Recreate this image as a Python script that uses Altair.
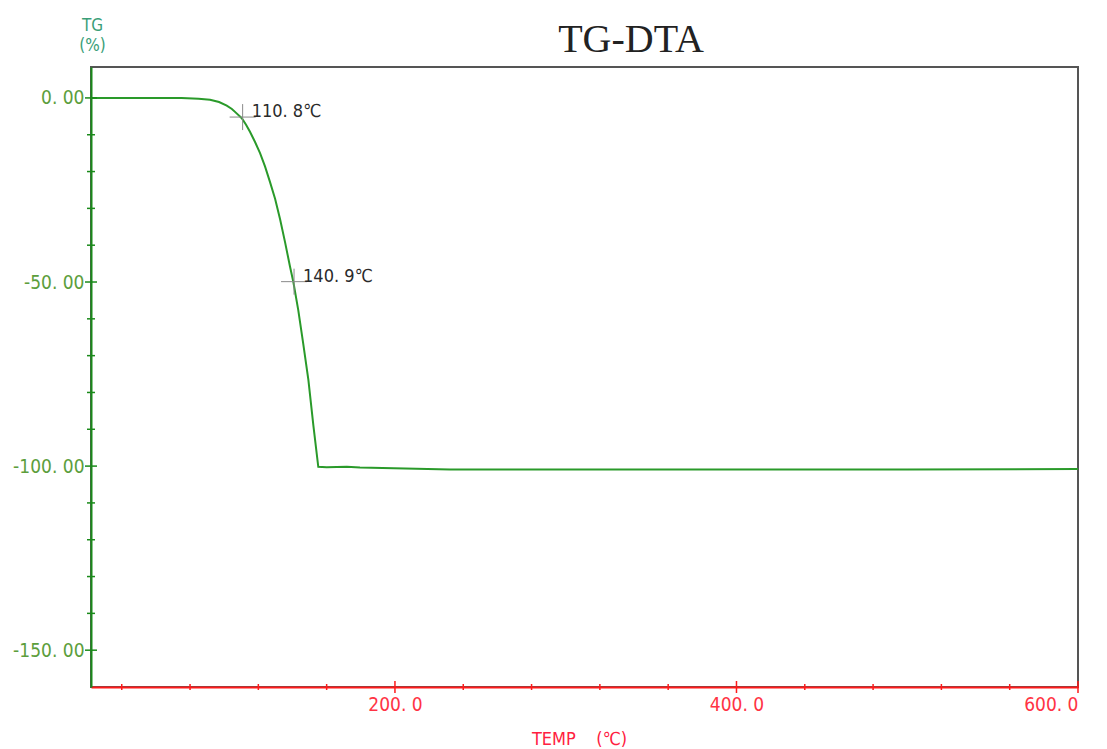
import altair as alt
import pandas as pd

# --- data ---
temp = [22.0, 40.0, 56.6, 75.0, 85.0, 91.7, 97.0, 101.5, 104.5, 107.3, 110.3,
        112.8, 115.1, 118.0, 121.0, 123.9, 126.8, 129.8, 132.7, 135.6, 138.5,
        140.5, 143.4, 146.3, 149.3, 152.2, 155.1, 160.0, 171.8, 179.5, 232.3,
        300.0, 400.0, 500.0, 600.0]
tg = [0.0, 0.0, 0.0, -0.05, -0.2, -0.5, -1.1, -2.1, -3.0, -4.2, -5.5,
      -7.3, -9.2, -11.9, -15.0, -18.6, -22.8, -27.4, -32.9, -39.1, -45.7,
      -50.0, -57.7, -66.8, -76.6, -88.9, -100.2, -100.3, -100.2, -100.4, -100.9,
      -100.9, -100.9, -100.9, -100.8]

ann_temp = [110.8, 140.9]
ann_tg = [-5.2, -49.9]
ann_text = ["110. 8\u2103", "140. 9\u2103"]

title_text = ["TG-DTA"]

y_major = [0, -50, -100, -150]
y_minor = [-10, -20, -30, -40, -60, -70, -80, -90, -110, -120, -130, -140]
x_major = [200, 400, 600]
x_minor = [40, 80, 120, 160, 240, 280, 320, 360, 440, 480, 520, 560]

X_DOMAIN = [22.0, 600.0]
Y_DOMAIN = [-160.0, 8.4]

FONT = "DejaVu Sans Condensed, Roboto, Liberation Sans, sans-serif"

curve_df = pd.DataFrame({"temp": temp, "tg": tg})
ann_df = pd.DataFrame({"temp": ann_temp, "tg": ann_tg, "label": ann_text})
ymaj_df = pd.DataFrame({"tg": y_major})
ymin_df = pd.DataFrame({"tg": y_minor})
xmaj_df = pd.DataFrame({"temp": x_major})
xmin_df = pd.DataFrame({"temp": x_minor})
title_df = pd.DataFrame({"t": title_text})

xscale = alt.Scale(domain=X_DOMAIN, nice=False, zero=False)
yscale = alt.Scale(domain=Y_DOMAIN, nice=False, zero=False)

xaxis = alt.Axis(
    values=x_major, ticks=False, tickSize=0, grid=False,
    domainColor="#ff1a1a", domainWidth=2,
    labelExpr="replace(format(datum.value, '.1f'), '.', '. ')",
    labelColor="#ff3344", labelFont=FONT, labelFontSize=19, labelPadding=8,
    title="TEMP\u00a0\u00a0\u00a0\u00a0(\u2103)", titleColor="#ff2040", titleFont=FONT,
    titleFontSize=18, titleFontWeight="normal", titleY=43, titleBaseline="top",
    titleX=488, titleAnchor="middle")
yaxis = alt.Axis(
    values=y_major, ticks=False, tickSize=0, grid=False,
    domainColor="#1a8a1a", domainWidth=2,
    labelExpr="replace(replace(format(datum.value, '.2f'), '\u2212', '-'), '.', '. ')",
    labelColor="#5c9e3c", labelFont=FONT, labelFontSize=19, labelPadding=7,
    title=["TG", "(%)"], titleColor="#3a9e78", titleFont=FONT,
    titleFontSize=17, titleFontWeight="normal", titleAngle=0,
    titleAlign="center", titleBaseline="top", titleX=1, titleY=-50,
    titleLineHeight=20)

X = lambda: alt.X("temp:Q", scale=xscale, axis=xaxis)
Y = lambda: alt.Y("tg:Q", scale=yscale, axis=yaxis)

line = alt.Chart(curve_df).mark_line(color="#2a9a2a", strokeWidth=2).encode(x=X(), y=Y())

ymaj = alt.Chart(ymaj_df).mark_rule(color="#1a8a1a", strokeWidth=1.5).encode(
    y=Y(), x=alt.value(-6), x2=alt.value(6))
ymin = alt.Chart(ymin_df).mark_rule(color="#1a8a1a", strokeWidth=1.5).encode(
    y=Y(), x=alt.value(-4), x2=alt.value(4))
xmaj = alt.Chart(xmaj_df).mark_rule(color="#ff1a1a", strokeWidth=1.5).encode(
    x=X(), y=alt.value(614), y2=alt.value(626))
xmin = alt.Chart(xmin_df).mark_rule(color="#ff1a1a", strokeWidth=1.5).encode(
    x=X(), y=alt.value(617), y2=alt.value(623))

cross = alt.Chart(ann_df).mark_point(
    shape="M-1,0L1,0M0,-1L0,1", size=676, filled=False,
    stroke="#8a8a8a", strokeWidth=1, opacity=1).encode(x=X(), y=Y())

labels = alt.Chart(ann_df).mark_text(
    align="left", baseline="middle", dx=9, dy=-5, font=FONT, fontSize=18,
    color="#2a2a2a").encode(x=X(), y=Y(), text="label:N")

title = alt.Chart(title_df).mark_text(
    align="center", baseline="alphabetic", font="Liberation Serif, serif",
    fontSize=40, color="#222222").encode(
    text="t:N", x=alt.value(540), y=alt.value(-15))

chart = alt.layer(line, ymaj, ymin, xmaj, xmin, cross, labels, title).properties(
    width=987, height=620,
    background="white",
    autosize=alt.AutoSizeParams(type="none"),
    padding={"left": 91, "top": 67, "right": 29, "bottom": 62},
).configure_view(stroke="#555555", strokeWidth=2)

chart.save("out.html", embed_options={"renderer": "svg", "actions": False})
